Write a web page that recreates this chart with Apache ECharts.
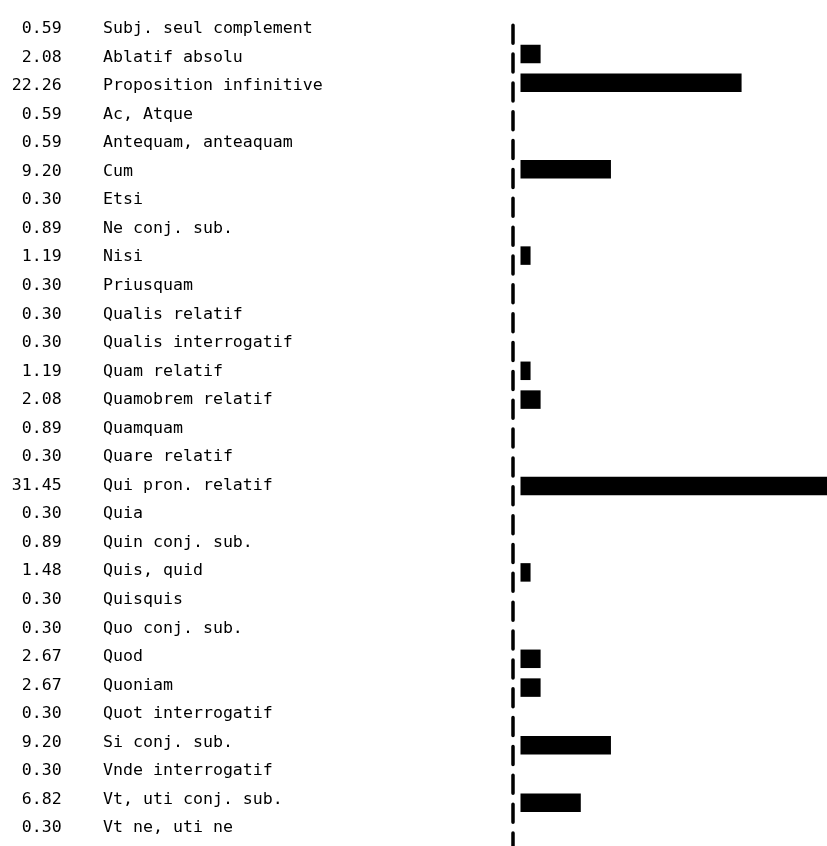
<!DOCTYPE html>
<html>
<head>
<meta charset="utf-8">
<script src="https://cdn.jsdelivr.net/npm/echarts@6/dist/echarts.min.js"></script>
<style>
html,body{margin:0;padding:0;background:#fff;}
#chart{width:827px;height:846px;}
</style>
</head>
<body>
<div id="chart"></div>
<script>
var categories = [
  "Subj. seul complement", "Ablatif absolu", "Proposition infinitive", "Ac, Atque",
  "Antequam, anteaquam", "Cum", "Etsi", "Ne conj. sub.", "Nisi", "Priusquam",
  "Qualis relatif", "Qualis interrogatif", "Quam relatif", "Quamobrem relatif",
  "Quamquam", "Quare relatif", "Qui pron. relatif", "Quia", "Quin conj. sub.",
  "Quis, quid", "Quisquis", "Quo conj. sub.", "Quod", "Quoniam",
  "Quot interrogatif", "Si conj. sub.", "Vnde interrogatif", "Vt, uti conj. sub.",
  "Vt ne, uti ne"
];
var percentLabels = [
  "0.59", "2.08", "22.26", "0.59", "0.59", "9.20", "0.30", "0.89", "1.19", "0.30",
  "0.30", "0.30", "1.19", "2.08", "0.89", "0.30", "31.45", "0.30", "0.89", "1.48",
  "0.30", "0.30", "2.67", "2.67", "0.30", "9.20", "0.30", "6.82", "0.30"
];
// bar lengths as drawn in the reference (whole units)
var barLengths = [
  0, 2, 22, 0, 0, 9, 0, 0, 1, 0,
  0, 0, 1, 2, 0, 0, 31, 0, 0, 1,
  0, 0, 2, 2, 0, 9, 0, 6, 0
];

var FONT = "DejaVu Sans Mono";
var chart = echarts.init(document.getElementById('chart'), null, {renderer: 'canvas'});
chart.setOption({
  animation: false,
  backgroundColor: '#fff',
  grid: [
    {left: 110, width: 10, top: 14.4, bottom: 3.6},
    {left: 520.5, right: 0, top: 10.8, bottom: -1.4},
    {left: 513, width: 5, top: 25.2, bottom: 0}
  ],
  xAxis: [
    {gridIndex: 0, type: 'value', show: false, min: 0, max: 1},
    {gridIndex: 1, type: 'value', show: false, min: 0, max: 30.5},
    {gridIndex: 2, type: 'value', show: false, min: 0, max: 1}
  ],
  yAxis: [
    {
      gridIndex: 0, type: 'category', data: categories, inverse: true,
      axisLine: {show: false}, axisTick: {show: false}, splitLine: {show: false},
      axisLabel: {interval: 0, align: 'left', margin: 7, color: '#000',
        fontFamily: FONT, fontSize: 16.6}
    },
    {
      gridIndex: 0, type: 'category', data: percentLabels, inverse: true, position: 'left',
      axisLine: {show: false}, axisTick: {show: false}, splitLine: {show: false},
      axisLabel: {interval: 0, align: 'right', margin: 48.3, color: '#000',
        fontFamily: FONT, fontSize: 16.6}
    },
    {
      gridIndex: 1, type: 'category', data: categories, inverse: true,
      axisLine: {show: false}, axisTick: {show: false}, axisLabel: {show: false}, splitLine: {show: false}
    },
    {
      gridIndex: 2, type: 'value', min: 0, max: 1, inverse: true, position: 'left',
      axisLine: {show: true, onZero: false, lineStyle: {color: '#000', width: 3.5, type: [18, 10.85], dashOffset: 0}},
      axisTick: {show: false}, axisLabel: {show: false}, splitLine: {show: false}
    }
  ],
  series: [
    {
      type: 'bar', xAxisIndex: 1, yAxisIndex: 2, data: barLengths,
      barWidth: 18.5, itemStyle: {color: '#000'}, silent: true
    }
  ]
});
</script>
</body>
</html>
